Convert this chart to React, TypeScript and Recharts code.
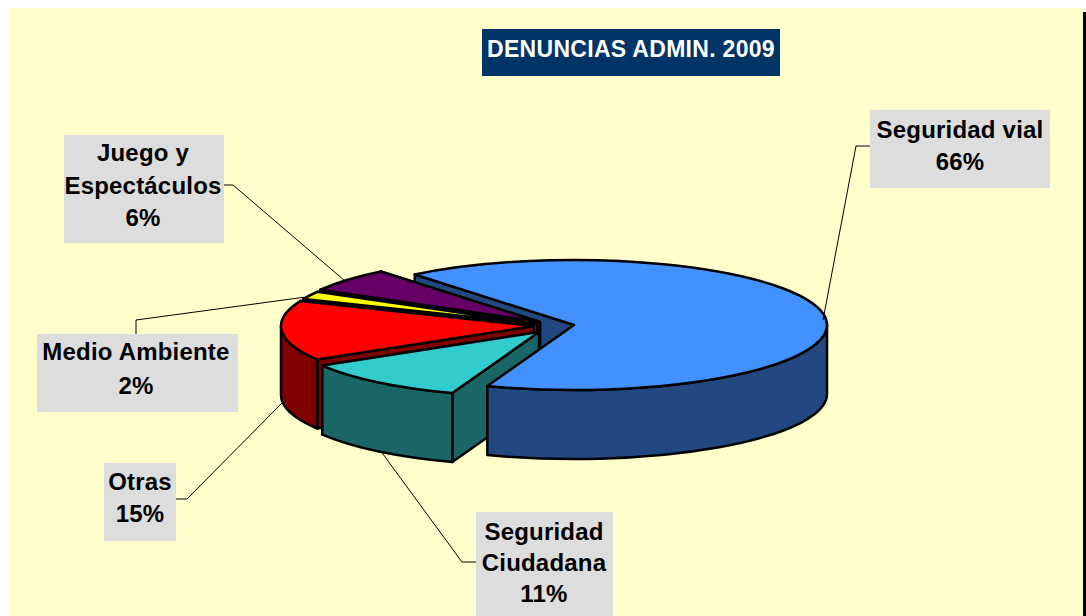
import React from 'react';
import { PieChart, Pie } from 'recharts';

// drawn back to front, with the big slice last because it sits in front of the teal wall
const categories = ['Juego y Espectáculos', 'Medio Ambiente', 'Otras', 'Seguridad Ciudadana', 'Seguridad vial'];
const values = [5.9, 2.0, 14.9, 10.8, 66.4];
const labelLines = [['Juego y', 'Espectáculos'], ['Medio Ambiente'], ['Otras'], ['Seguridad', 'Ciudadana'], ['Seguridad vial']];

const topColors = ['#660066', '#FFFF00', '#FF0000', '#33CCCC', '#4391FF'];
const sideColors = ['#330033', '#808000', '#800000', '#1A6666', '#21487F'];

const chartData = categories.map((name, i) => ({ name, value: values[i] }));

const RX = 253;
const RY = 65;
const DEPTH = 69;
const BIG_SLICE = 4;

// how far each slice is pulled out of the pie
const explode = [[0, -3], [-3, -1], [-6, 1], [-1, 7], [34, 0]];

const labelBoxes = [
  { x: 64, y: 135, w: 160, h: 108, cx: 143, base: 161, step: 32.5, line: '224,185 233,185 345,281' },
  { x: 37, y: 334, w: 201, h: 78, cx: 136, base: 360, step: 34, line: '136,334 136,320 306,297' },
  { x: 104, y: 463, w: 72, h: 78, cx: 140, base: 490, step: 32, line: '176,499 187,499 282,403' },
  { x: 476, y: 512, w: 137, h: 108, cx: 544, base: 540, step: 31, line: '476,562 462,562 380,450' },
  { x: 870, y: 110, w: 180, h: 78, cx: 960, base: 138, step: 32, line: '870,146 856,146 823,320' },
];

const FONT = '"Liberation Sans", Arial, sans-serif';

const sliceGeometry = (props: any) => {
  const i = categories.indexOf(props.name ?? props.payload?.name);
  const ox = props.cx + explode[i][0];
  const oy = props.cy + explode[i][1];
  const pt = (deg: number, down = 0) => {
    const r = (deg * Math.PI) / 180;
    return `${ox + RX * Math.cos(r)} ${oy - RY * Math.sin(r) + down}`;
  };
  return { i, ox, oy, pt };
};

// the part of a slice's rim that faces the viewer (lower half of the ellipse)
const frontRange = (a: number, b: number): [number, number] | null => {
  const lo = Math.min(a, b);
  const hi = Math.max(a, b);
  for (const base of [-180, 180]) {
    const from = Math.max(lo, base);
    const to = Math.min(hi, base + 180);
    if (to > from) return [from, to];
  }
  return null;
};

const sideStyle = (i: number) => ({
  fill: sideColors[i],
  stroke: '#000',
  strokeWidth: 2.5,
  strokeLinejoin: 'round' as const,
});

// the big slice's cut face has to stay behind the small slices
const BackFace = (props: any) => {
  const { i, ox, oy, pt } = sliceGeometry(props);
  if (i !== BIG_SLICE) return <g />;
  return <path d={`M${ox} ${oy}L${pt(props.endAngle)}L${pt(props.endAngle, DEPTH)}L${ox} ${oy + DEPTH}Z`} {...sideStyle(i)} />;
};

const SliceShape = (props: any) => {
  const { startAngle, endAngle } = props;
  const { i, ox, oy, pt } = sliceGeometry(props);
  const large = Math.abs(endAngle - startAngle) > 180 ? 1 : 0;
  const front = frontRange(startAngle, endAngle);
  return (
    <g>
      {i !== BIG_SLICE && (
        <>
          <path d={`M${ox} ${oy}L${pt(startAngle)}L${pt(startAngle, DEPTH)}L${ox} ${oy + DEPTH}Z`} {...sideStyle(i)} />
          <path d={`M${ox} ${oy}L${pt(endAngle)}L${pt(endAngle, DEPTH)}L${ox} ${oy + DEPTH}Z`} {...sideStyle(i)} />
        </>
      )}
      {front && (
        <path
          d={`M${pt(front[0])}A${RX} ${RY} 0 0 0 ${pt(front[1])}L${pt(front[1], DEPTH)}A${RX} ${RY} 0 0 1 ${pt(front[0], DEPTH)}Z`}
          {...sideStyle(i)}
        />
      )}
      <path
        d={`M${ox} ${oy}L${pt(startAngle)}A${RX} ${RY} 0 ${large} 0 ${pt(endAngle)}Z`}
        fill={topColors[i]}
        stroke="#000"
        strokeWidth={2.5}
        strokeLinejoin="round"
      />
    </g>
  );
};

const renderLabel = (props: any) => {
  const { index, percent } = props;
  const box = labelBoxes[index];
  const lines = [...labelLines[index], `${Math.round(percent * 100)}%`];
  return (
    <g key={index}>
      <polyline points={box.line} fill="none" stroke="#000" strokeWidth={1} />
      <rect x={box.x} y={box.y} width={box.w} height={box.h} fill="#DDDDDD" />
      {lines.map((t, k) => (
        <text
          key={t}
          x={box.cx}
          y={box.base + k * box.step}
          textAnchor="middle"
          fontFamily={FONT}
          fontWeight="bold"
          fontSize={24}
          letterSpacing={0.2}
          fill="#000"
        >
          {t}
        </text>
      ))}
    </g>
  );
};

export default function App() {
  return (
    <div style={{ position: 'fixed', left: 0, top: 0, width: 1086, height: 616, background: '#fff', overflow: 'hidden' }}>
      <div style={{ position: 'absolute', left: 10, top: 8, width: 1073, height: 608, background: '#FFFFCC' }} />
      <div style={{ position: 'absolute', left: 1083, top: 12, width: 3, height: 604, background: '#000' }} />
      <div
        style={{
          position: 'absolute',
          left: 482,
          top: 29,
          width: 298,
          height: 47,
          background: '#003366',
          color: '#fff',
          fontFamily: FONT,
          fontWeight: 'bold',
          fontSize: 23,
          letterSpacing: 0.3,
          lineHeight: '41px',
          textAlign: 'center',
          whiteSpace: 'nowrap',
        }}
      >
        DENUNCIAS ADMIN. 2009
      </div>
      <div style={{ position: 'absolute', left: 0, top: 0 }}>
        <PieChart width={1086} height={616} margin={{ top: 0, right: 0, bottom: 0, left: 0 }}>
          <Pie
            data={chartData}
            dataKey="value"
            nameKey="name"
            cx={540}
            cy={325}
            outerRadius={RX}
            startAngle={129}
            endAngle={489}
            isAnimationActive={false}
            shape={BackFace}
            labelLine={false}
          />
          <Pie
            data={chartData}
            dataKey="value"
            nameKey="name"
            cx={540}
            cy={325}
            outerRadius={RX}
            startAngle={129}
            endAngle={489}
            isAnimationActive={false}
            shape={SliceShape}
            label={renderLabel}
            labelLine={false}
          />
        </PieChart>
      </div>
    </div>
  );
}
